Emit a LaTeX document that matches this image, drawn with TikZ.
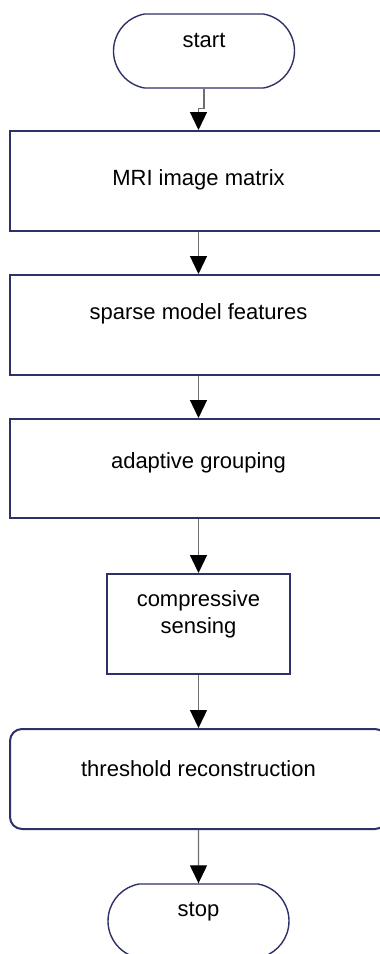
\documentclass[tikz,border=0pt]{standalone}
\usepackage{fontspec}
\setmainfont{Liberation Sans}
\usetikzlibrary{shapes.misc,arrows.meta}
\definecolor{boxline}{HTML}{2D3166}
\definecolor{flowline}{HTML}{6E6E6E}

\begin{document}
\begin{tikzpicture}[x=1pt,y=1pt,
				font=\fontsize{22}{27}\selectfont,
				term node/.style = {rounded rectangle, rounded rectangle arc length=160, draw=boxline, line width=1.4pt,
					minimum width=181pt, minimum height=74pt, inner sep=0pt, text height=16pt},
				proc node/.style = {rectangle, draw=boxline, line width=2pt, minimum width=377pt,
					minimum height=100pt, inner sep=0pt, text height=16pt},
				flow/.style = {draw=flowline, line width=1.3pt, -{Triangle[width=17pt,length=18pt,color=black]}}]
				\useasboundingbox (0,0) rectangle (380,-954);
				
				\node[term node,text depth=24pt] at (204,-51) (start) {start};
				\node[proc node,text depth=8pt] at (198.5,-181) (mri) {MRI image matrix};
				\node[proc node,text depth=28pt] at (198.5,-325) (sparse) {sparse model features};
				\node[proc node,text depth=17pt,minimum height=99pt] at (198.5,-468.5) (group) {adaptive grouping};
				\node[proc node,align=center,minimum width=183pt,text height=18pt,text depth=0pt] at (198.5,-624) (cs) {compressive\\sensing};
				\node[proc node,rounded corners=12pt,text depth=22pt] at (198.5,-779) (thresh) {threshold reconstruction};
				\node[term node,text depth=26pt] at (198.5,-921) (stop) {stop};
				
				\draw[flow] (start.south) -- ++(0,-20) -| (mri.north);
				\path[flow]
				(mri) edge (sparse)
				(sparse) edge (group)
				(group) edge (cs)
				(cs) edge (thresh)
				(thresh) edge (stop);
\end{tikzpicture}
\end{document}
